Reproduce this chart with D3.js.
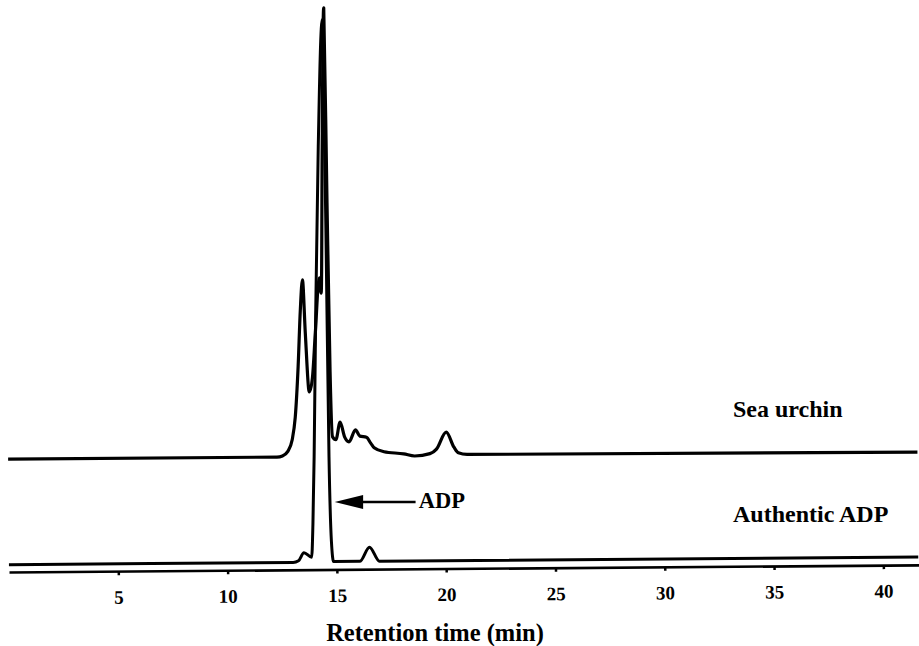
<!DOCTYPE html>
<html>
<head>
<meta charset="utf-8">
<script src="https://cdnjs.cloudflare.com/ajax/libs/d3/7.8.5/d3.min.js"></script>
<style>
  body { margin: 0; background: #fff; }
  text { font-family: "Liberation Serif", "Times New Roman", serif; font-weight: bold; fill: #000; }
</style>
</head>
<body>
<svg id="chart" width="919" height="646"></svg>
<script>
// retention time (min) and detector signal (relative units)
var seaTime = [0, 12.3, 12.55, 12.8, 13.0, 13.15, 13.3, 13.42, 13.53, 13.64, 13.8, 13.95, 14.1, 14.3, 14.38, 14.48, 14.6, 14.68, 14.76, 14.85, 15.0, 15.2, 15.4, 15.6, 15.9, 16.1, 16.4, 16.6, 16.75, 17.2, 18.1, 18.6, 19.3, 19.6, 20.05, 20.4, 20.6, 21.0, 41.6];
var seaSignal = [20, 20, 20.2, 21, 23, 27, 36, 46, 51.4, 42, 31.5, 34, 42, 51.7, 49, 75, 99.6, 65, 35, 23.5, 23, 26.1, 23.5, 22.6, 24.7, 23.6, 23.4, 22.3, 21.5, 20.8, 20.4, 20.0, 20.4, 21.2, 24.2, 21.5, 20.5, 20.2, 20];

var adpTime = [0, 13.0, 13.25, 13.5, 13.85, 13.92, 14.0, 14.12, 14.3, 14.53, 14.62, 14.68, 14.76, 14.85, 16.05, 16.5, 16.95, 41.6];
var adpSignal = [1.3, 1.3, 1.6, 3.0, 2.2, 8, 20, 45, 75, 97.5, 60, 20, 5, 1.4, 1.4, 3.9, 1.4, 1.4];

var tickValues = [5, 10, 15, 20, 25, 30, 35, 40];
var traceLabels = ["Sea urchin", "Authentic ADP"];

var svg = d3.select("#chart");

var x = d3.scaleLinear().domain([0, 41.63]).range([9, 919]);
var y = d3.scaleLinear().domain([0, 100]).range([572, 8]);

// the scanned figure is tilted slightly
var plot = svg.append("g")
  .attr("transform", "rotate(-0.45, 9, 572)");

var line = d3.line()
  .x(function(d) { return x(d[0]); })
  .y(function(d) { return y(d[1]); })
  .curve(d3.curveMonotoneX);

var seaData = seaTime.map(function(t, i) { return [t, seaSignal[i]]; });
var adpData = adpTime.map(function(t, i) { return [t, adpSignal[i]]; });

plot.append("path")
  .datum(adpData)
  .attr("d", line)
  .attr("fill", "none")
  .attr("stroke", "#000")
  .attr("stroke-width", 3)
  .attr("stroke-linejoin", "round");

plot.append("path")
  .datum(seaData)
  .attr("d", line)
  .attr("fill", "none")
  .attr("stroke", "#000")
  .attr("stroke-width", 3.2)
  .attr("stroke-linejoin", "round");

var axis = plot.append("g")
  .attr("transform", "translate(0," + y(0) + ")")
  .call(d3.axisBottom(x).tickValues(tickValues).tickSize(4).tickSizeOuter(0).tickPadding(15));

axis.select(".domain").attr("stroke-width", 2.6);
axis.selectAll(".tick line").attr("stroke-width", 2.5);
axis.selectAll(".tick text")
  .attr("font-size", 19)
  .style("font-family", "'Liberation Serif', serif")
  .style("font-weight", "bold");

// ADP arrow
var arrowY = 502;
svg.append("line")
  .attr("x1", x(16.1)).attr("x2", x(18.6))
  .attr("y1", arrowY).attr("y2", arrowY)
  .attr("stroke", "#000").attr("stroke-width", 2.5);
svg.append("path")
  .attr("d", "M" + x(14.9) + "," + arrowY + "L" + x(16.2) + "," + (arrowY - 7) + "L" + x(16.2) + "," + (arrowY + 7) + "Z")
  .attr("fill", "#000");
svg.append("text")
  .attr("x", x(18.75)).attr("y", 508)
  .attr("font-size", 22.5)
  .text("ADP");

// trace labels
svg.append("text")
  .attr("x", 733).attr("y", 417)
  .attr("font-size", 24)
  .text(traceLabels[0]);
svg.append("text")
  .attr("x", 733).attr("y", 522)
  .attr("font-size", 24)
  .text(traceLabels[1]);

svg.append("text")
  .attr("x", 435).attr("y", 641)
  .attr("text-anchor", "middle")
  .attr("font-size", 24.5)
  .text("Retention time (min)");
</script>
</body>
</html>
